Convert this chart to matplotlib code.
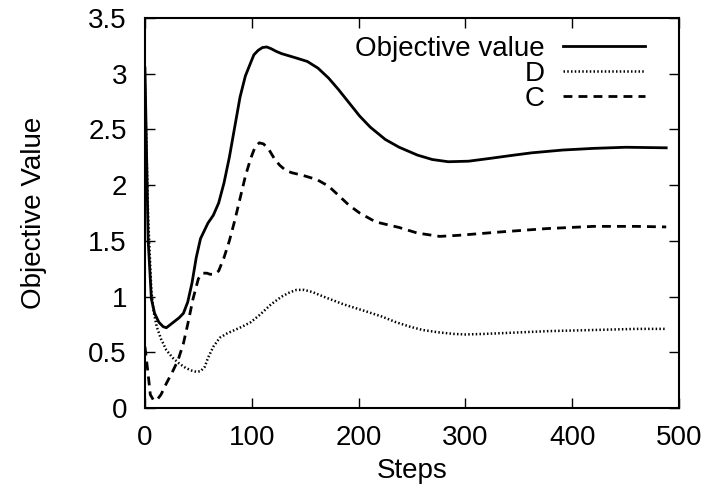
import matplotlib
matplotlib.use('Agg')
from matplotlib import pyplot as plt

# values
obj_steps = [0, 3, 6, 9, 13, 17, 20, 24, 28, 32, 36, 40, 44, 48, 52, 56, 59, 64,
             69, 74, 79, 84, 89, 94, 99, 102, 106, 110, 114, 118, 123, 128, 135,
             142, 152, 162, 172, 181, 191, 201, 211, 225, 238, 255, 269, 284, 303,
             323, 342, 362, 391, 420, 450, 488]
obj_values = [3.05, 1.5, 0.98, 0.85, 0.77, 0.73, 0.72, 0.75, 0.78, 0.81, 0.85, 0.95,
              1.12, 1.35, 1.52, 1.6, 1.66, 1.73, 1.84, 2.02, 2.25, 2.52, 2.79, 2.98,
              3.1, 3.17, 3.21, 3.235, 3.24, 3.225, 3.2, 3.18, 3.16, 3.14, 3.11, 3.05,
              2.96, 2.86, 2.74, 2.62, 2.52, 2.41, 2.34, 2.27, 2.23, 2.21, 2.215,
              2.24, 2.265, 2.29, 2.315, 2.33, 2.34, 2.335]

d_steps = [0, 3, 6, 8, 11, 15, 20, 26, 32, 38, 44, 48, 52, 56, 59, 64, 70, 77, 84,
           91, 99, 108, 118, 128, 136, 142, 149, 157, 167, 186, 206, 222, 235,
           248, 260, 274, 289, 300, 318, 342, 378, 420, 460, 488]
d_values = [2.9, 1.7, 1.05, 0.87, 0.73, 0.62, 0.52, 0.45, 0.4, 0.36, 0.335, 0.325,
            0.33, 0.37, 0.45, 0.55, 0.63, 0.67, 0.7, 0.73, 0.77, 0.84, 0.93, 1.0,
            1.04, 1.06, 1.06, 1.04, 1.0, 0.93, 0.87, 0.82, 0.77, 0.73, 0.7, 0.68,
            0.665, 0.66, 0.665, 0.675, 0.69, 0.70, 0.71, 0.71]

c_steps = [0, 3, 5, 8, 11, 15, 20, 26, 31, 36, 40, 45, 50, 54, 58, 61, 65, 69, 74,
           79, 84, 89, 94, 99, 103, 107, 111, 116, 121, 126, 132, 138, 147, 161,
           172, 181, 191, 201, 216, 238, 255, 276, 294, 333, 376, 420, 460, 488]
c_values = [0.55, 0.3, 0.12, 0.07, 0.07, 0.12, 0.22, 0.33, 0.43, 0.58, 0.75, 0.98,
            1.16, 1.21, 1.21, 1.2, 1.2, 1.23, 1.35, 1.5, 1.68, 1.88, 2.08, 2.24,
            2.34, 2.38, 2.37, 2.32, 2.24, 2.18, 2.13, 2.11, 2.09, 2.05, 1.99, 1.91,
            1.82, 1.75, 1.67, 1.62, 1.57, 1.54, 1.55, 1.58, 1.61, 1.63, 1.63, 1.625]

plt.rcParams['font.family'] = ['Liberation Sans', 'DejaVu Sans']
plt.rcParams['font.size'] = 20

fig = plt.figure(figsize=(7.11, 5), dpi=100)
ax = fig.add_axes([0.2039, 0.184, 0.7511, 0.78])

ax.plot(obj_steps, obj_values, color='black', lw=2, label='Objective value')
ax.plot(d_steps, d_values, color='black', lw=1.8, linestyle=(0, (0.6, 0.9)), label='D')
ax.plot(c_steps, c_values, color='black', lw=2, linestyle=(0, (3.2, 2.2)), label='C')

ax.set_xlim(0, 500)
ax.set_ylim(0, 3.5)
ax.set_xticks([0, 100, 200, 300, 400, 500])
ax.set_yticks([0, 0.5, 1, 1.5, 2, 2.5, 3, 3.5])
ax.set_yticklabels(['0', '0.5', '1', '1.5', '2', '2.5', '3', '3.5'])
ax.tick_params(direction='in', length=7, width=1, top=True, right=True)
ax.tick_params(axis='x', pad=12)
ax.tick_params(axis='y', pad=13)
for s in ax.spines.values():
    s.set_linewidth(1.5)

ax.set_xlabel('Steps', labelpad=5)
ax.set_ylabel('Objective Value', labelpad=30)

ax.legend(loc='upper right', frameon=False, markerfirst=False, handlelength=2.95,
          handletextpad=0.65, labelspacing=-0.03, bbox_to_anchor=(0.936, 0.955),
          borderaxespad=0, borderpad=0)

fig.savefig('out.png', dpi=100)
